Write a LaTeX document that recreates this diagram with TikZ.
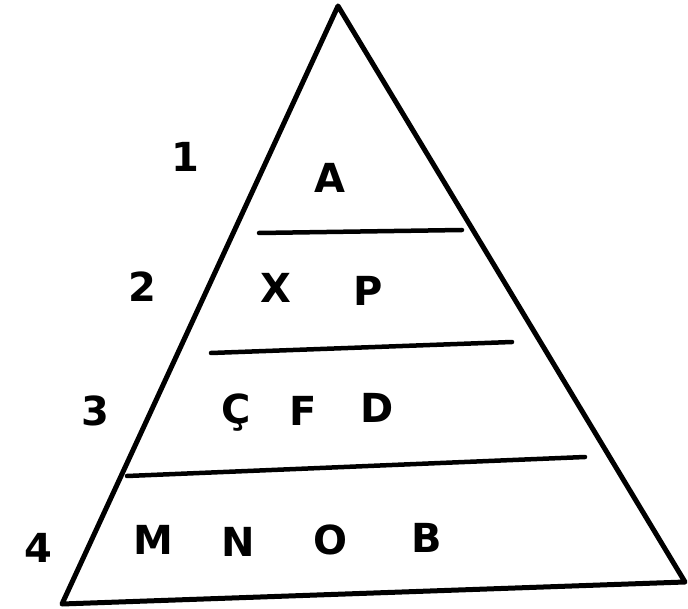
\documentclass[tikz,border=0pt]{standalone}
\usepackage{fontspec}
\setmainfont{DejaVu Sans}
\begin{document}
\begin{tikzpicture}[x=1pt,y=-1pt,
  edge/.style={line width=5pt,line cap=round,line join=round},
  sep/.style={line width=4.5pt,line cap=round},
  lbl/.style={anchor=base,inner sep=0pt,font=\fontsize{40}{44}\selectfont\bfseries}]
\useasboundingbox (0,0) rectangle (688,609);
\coordinate (top) at (338,6);
\coordinate (bl) at (62,604);
\coordinate (br) at (685,582);
\draw[edge] (top) -- (br) -- (bl) -- cycle;
\coordinate (l1a) at (259,233); \coordinate (l1b) at (462,230);
\coordinate (l2a) at (211,353); \coordinate (l2b) at (512,342);
\coordinate (l3a) at (127,476); \coordinate (l3b) at (585,457);
\draw[sep] (l1a) -- (l1b);
\draw[sep] (l2a) -- (l2b);
\draw[sep] (l3a) -- (l3b);
\node[lbl] (n1) at (185,172) {1};
\node[lbl] (A) at (330,193) {A};
\node[lbl] (n2) at (142,302) {2};
\node[lbl] (X) at (276,303) {X};
\node[lbl] (P) at (368,306) {P};
\node[lbl] (n3) at (95,425) {3};
\node[lbl] (C) at (236,423) {Ç};
\node[lbl] (F) at (303,425) {F};
\node[lbl] (D) at (377,422) {D};
\node[lbl] (n4) at (38,562) {4};
\node[lbl] (M) at (153,554) {M};
\node[lbl] (N) at (238,556) {N};
\node[lbl] (O) at (330,554) {O};
\node[lbl] (B) at (427,552) {B};
\end{tikzpicture}
\end{document}
